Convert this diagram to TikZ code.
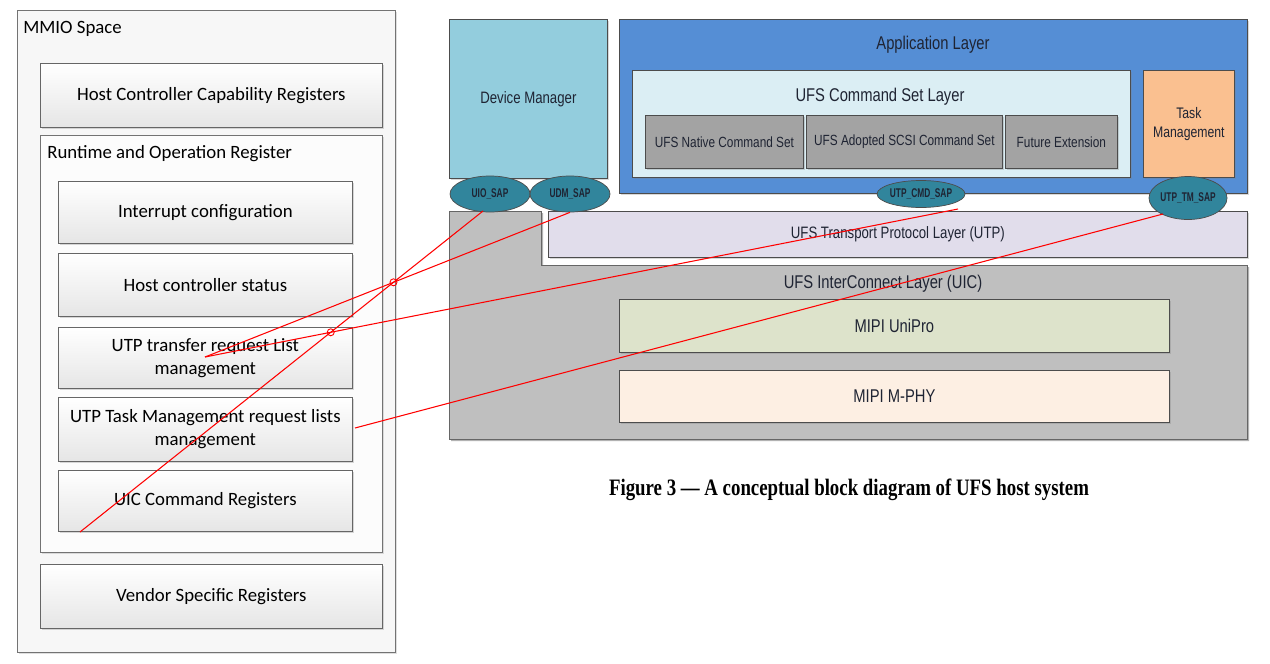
\documentclass[tikz,border=0pt]{standalone}
\usepackage{fontspec}
\setmainfont{Carlito}
\newfontfamily\narrowsans[FakeStretch=0.8]{Liberation Sans}
\newfontfamily\sapsans[FakeStretch=0.66]{Liberation Sans}
\newfontfamily\captionserif[FakeStretch=0.8]{Liberation Serif}
\usepackage{tikz}
\usetikzlibrary{shapes.geometric,shadows,intersections}
\def\px{0.02cm}
\definecolor{devblue}{HTML}{93CDDD}
\definecolor{appblue}{HTML}{558ED5}
\definecolor{cmdcyan}{HTML}{DBEEF4}
\definecolor{setgray}{HTML}{A3A3A3}
\definecolor{taskpeach}{HTML}{FAC090}
\definecolor{sapteal}{HTML}{31859C}
\definecolor{utplav}{HTML}{E1DDEB}
\definecolor{uicgray}{HTML}{BFBFBF}
\definecolor{unipro}{HTML}{DDE3CB}
\definecolor{mphy}{HTML}{FDEFE3}
\definecolor{txtdark}{HTML}{1F2433}
\tikzset{wh/.style 2 args={minimum width=#1*\px, minimum height=#2*\px}}

\begin{document}
\begin{tikzpicture}[x=\px,y=-\px]
    \tikzstyle{panel}=[draw=black!55, fill=black!3, anchor=north west, inner sep=0pt,
        drop shadow={shadow xshift=1.2pt,shadow yshift=-1.2pt,opacity=0.25}]
    \tikzstyle{regbox}=[draw=black!60, top color=white, bottom color=black!10, anchor=north west,
        inner sep=0pt, align=center, font=\fontsize{10.7}{13}\selectfont,
        drop shadow={shadow xshift=1.2pt,shadow yshift=-1.2pt,opacity=0.3}]
    \tikzstyle{plain}=[anchor=west, font=\fontsize{10.7}{13}\selectfont, inner sep=0pt]
    \tikzstyle{layer}=[draw=black!70, anchor=north west, inner sep=0pt, align=center,
        text=txtdark, font=\narrowsans\fontsize{9.4}{11}\selectfont,
        drop shadow={shadow xshift=0.8pt,shadow yshift=-0.8pt,opacity=0.3}]
    \tikzstyle{lbl}=[text=txtdark, font=\narrowsans\fontsize{10.5}{12}\selectfont, inner sep=0pt]
    \tikzstyle{small}=[font=\narrowsans\fontsize{8.4}{10}\selectfont]
    \tikzstyle{sap}=[ellipse, draw=black!70, fill=sapteal, inner sep=0pt, text=txtdark,
        font=\sapsans\bfseries\fontsize{7.2}{8}\selectfont]
    \tikzstyle{redline}=[draw=red, line width=0.6pt]
    \useasboundingbox (0,0) rectangle (1270,663);
    \fill[white] (0,0) rectangle (1270,663);

    % MMIO register map
    \node[panel, wh={378}{642}] (mmio) at (17,10) {};
    \node[plain] (mmio-lbl) at (23,29) {MMIO Space};
    \node[regbox, wh={342}{64}] (cap) at (40,63) {Host Controller Capability Registers};
    \node[panel, fill=black!1, wh={342}{417}] (runtime) at (40,135) {};
    \node[plain] (runtime-lbl) at (47,154) {Runtime and Operation Register};
    \node[regbox, wh={294}{62}] (intr) at (58,181) {Interrupt configuration};
    \node[regbox, wh={294}{63}] (status) at (58,253) {Host controller status};
    \node[regbox, wh={294}{61}] (xfer) at (58,327) {UTP transfer request List\\management};
    \node[regbox, wh={294}{64}] (taskreg) at (58,397) {UTP Task Management request lists\\management};
    \node[regbox, wh={294}{61}] (uiccmd) at (58,470) {UIC Command Registers};
    \node[regbox, wh={342}{64}] (vendor) at (40,564) {Vendor Specific Registers};

    % UIC and UTP layers
    \fill[black!30] (451,213) -- (543,213) -- (543,267) -- (1249,267) -- (1249,441) -- (451,441) -- cycle;
    \draw[black!60, fill=uicgray] (449,211) -- (541,211) -- (541,265) -- (1247,265) -- (1247,439) -- (449,439) -- cycle;
    \node[layer, fill=utplav, wh={699}{46}] (utp) at (548,211) {UFS Transport Protocol Layer (UTP)};
    \node[lbl] (uic-lbl) at (883,284) {UFS InterConnect Layer (UIC)};
    \node[layer, fill=unipro, wh={550}{53}, font=\narrowsans\fontsize{10.5}{12}\selectfont] (unipro) at (619,299) {MIPI UniPro};
    \node[layer, fill=mphy, wh={550}{52}, font=\narrowsans\fontsize{10.5}{12}\selectfont] (mphy) at (619,370) {MIPI M-PHY};

    % Upper layers
    \node[layer, fill=devblue, wh={158}{159}] (devmgr) at (449,19) {Device Manager};
    \node[layer, fill=appblue, wh={628}{174}] (app) at (619,19) {};
    \node[lbl] (app-lbl) at (933,45) {Application Layer};
    \node[layer, fill=cmdcyan, wh={498}{107}] (cmdset) at (632,70) {};
    \node[lbl] (cmdset-lbl) at (880,97) {UFS Command Set Layer};
    \node[layer, small, fill=setgray, wh={158}{53}] (native) at (645,115) {UFS Native Command Set};
    \node[layer, small, fill=setgray, wh={196}{53}] (scsi) at (806,115) {UFS Adopted SCSI Command Set};
    \node[layer, small, fill=setgray, wh={112}{53}] (future) at (1005,115) {Future Extension};
    \node[layer, small, fill=taskpeach, wh={91}{107}, font=\narrowsans\fontsize{8.7}{10.5}\selectfont] (taskmgr) at (1143,70) {Task\\Management};

    % Service access points
    \node[sap, wh={80}{36}] (uio) at (490,194) {UIO\_SAP};
    \node[sap, wh={80}{36}] (udm) at (570,194) {UDM\_SAP};
    \node[sap, wh={78}{27}] (cmd) at (921,194) {UTP\_CMD\_SAP};
    \node[sap, wh={78}{43}] (tm) at (1188,198) {UTP\_TM\_SAP};

    % Register to SAP mapping
    \coordinate (uio-start) at (483,211);
    \coordinate (uic-end) at (80,532);
    \coordinate (xfer-end) at (205,357);
    \coordinate (task-end) at (355,428);
    \coordinate (cmd-start) at (958,209);
    \coordinate (tm-start) at (1163,214);
    \draw[redline, name path=uioline] (uio-start) -- (uic-end);
    \draw[redline, name path=udmline] (udm.south) -- (xfer-end);
    \draw[redline, name path=cmdline] (cmd-start) -- (xfer-end);
    \draw[redline] (tm-start) -- (task-end);
    \path[name intersections={of=uioline and udmline, by=hop1}];
    \path[name intersections={of=uioline and cmdline, by=hop2}];
    \draw[redline, line width=0.5pt] (hop1) circle (0.07cm);
    \draw[redline, line width=0.5pt] (hop2) circle (0.07cm);

    % Caption
    \node[font=\captionserif\bfseries\fontsize{13.4}{15}\selectfont, inner sep=0pt] (caption) at (849,490)
        {Figure 3 — A conceptual block diagram of UFS host system};
\end{tikzpicture}
\end{document}
